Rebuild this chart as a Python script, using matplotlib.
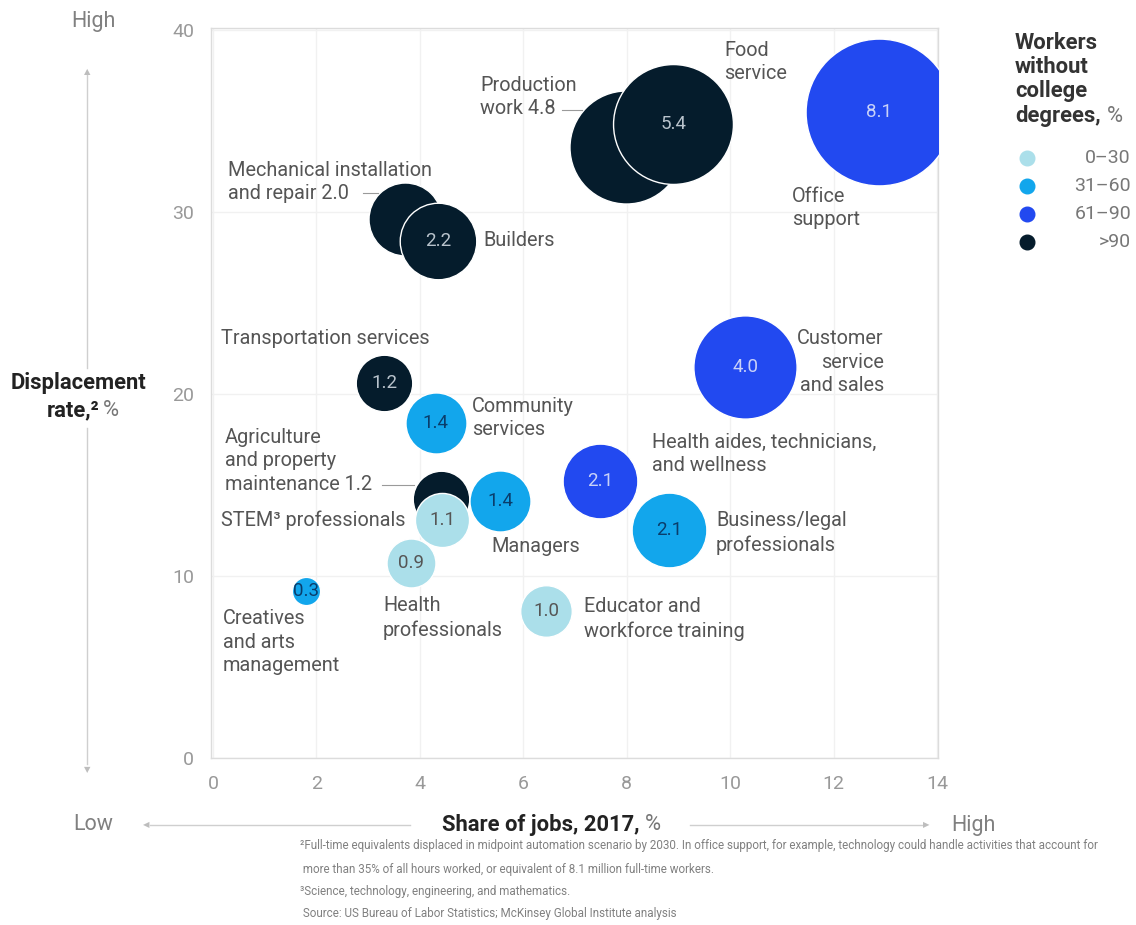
import matplotlib
matplotlib.use("Agg")
import matplotlib.pyplot as plt
from matplotlib.lines import Line2D
import numpy as np

plt.rcParams['font.family'] = ['Roboto', 'DejaVu Sans']

# ---------------- data ----------------
names = ["Office support", "Production work", "Food service", "Mechanical installation",
         "Builders", "Customer service and sales", "Transportation services",
         "Community services", "Agriculture and property maintenance", "STEM professionals",
         "Managers", "Health aides, technicians, and wellness", "Business/legal professionals",
         "Health professionals", "Creatives and arts management", "Educator and workforce training"]
share_of_jobs = [12.88, 7.99, 8.90, 3.71, 4.35, 10.29, 3.31, 4.31, 4.41, 4.43,
                 5.55, 7.49, 8.82, 3.83, 1.80, 6.44]
displacement = [35.5, 33.55, 34.8, 29.6, 28.4, 21.5, 20.6, 18.4, 14.2, 13.1,
                14.1, 15.2, 12.5, 10.7, 9.2, 8.1]
displaced_millions = [8.1, 4.8, 5.4, 2.0, 2.2, 4.0, 1.2, 1.4, 1.2, 1.1,
                      1.4, 2.1, 2.1, 0.9, 0.3, 1.0]
no_degree_group = [2, 3, 3, 3, 3, 2, 3, 1, 3, 0, 1, 2, 1, 0, 1, 0]
show_inside = [True, False, True, False, True, True, True, True, False, True,
               True, True, True, True, True, True]

group_labels = ["0–30", "31–60", "61–90", ">90"]
group_colors = ["#abdfea", "#12a6ec", "#2249f0", "#051c2c"]
inside_text_colors = ["#555555", "#0a3d6b", "#c9d2f8", "#b9c3cc"]

xticks = [0, 2, 4, 6, 8, 10, 12, 14]
yticks = [0, 10, 20, 30, 40]

W, H = 1136, 925
fig = plt.figure(figsize=(W / 100, H / 100), dpi=100)

def P(x, y):
    return (x / W, 1 - y / H)

ax = fig.add_axes([211 / W, 1 - 758 / H, (938 - 211) / W, (758 - 28) / H])
ax.set_xlim(-0.04, 14.02)
ax.set_ylim(0, 40.1)
for sp in ax.spines.values():
    sp.set_color("#dcdcdc")
    sp.set_linewidth(1.0)
ax.set_xticks(xticks)
ax.set_yticks(yticks)
ax.tick_params(length=0, labelsize=14, colors="#999999", pad=12)
ax.grid(True, color="#f1f1f1", linewidth=1.0)
ax.set_axisbelow(True)

SCALE = 1380
for i in range(len(names)):
    g = no_degree_group[i]
    ax.scatter(share_of_jobs[i], displacement[i], s=SCALE * displaced_millions[i],
               color=group_colors[g], edgecolors="white", linewidths=1.0, zorder=3 + i * 0.01)
    if show_inside[i]:
        ax.text(share_of_jobs[i], displacement[i], f"{displaced_millions[i]:.1f}",
                ha="center", va="center", fontsize=13.5,
                color=inside_text_colors[g], zorder=5)

# ---------------- labels ----------------
lab_kw = dict(fontsize=14.3, color="#555555", va="center", linespacing=1.33)

def lab(x, y, s, ha="left"):
    fig.text(*P(x, y), s, ha=ha, **lab_kw)

lab(480, 97, "Production\nwork 4.8")
lab(724, 62, "Food\nservice")
lab(792, 208, "Office\nsupport")
lab(228, 182, "Mechanical installation\nand repair 2.0")
lab(483, 241, "Builders")
lab(221, 339, "Transportation services")
lab(472, 418, "Community\nservices")
lab(225, 461, "Agriculture\nand property\nmaintenance 1.2")
lab(221, 520, "STEM³ professionals")
lab(491, 546, "Managers")
lab(383, 618, "Health\nprofessionals")
lab(223, 642, "Creatives\nand arts\nmanagement")
lab(584, 619, "Educator and\nworkforce training")
lab(652, 454, "Health aides, technicians,\nand wellness")
lab(716, 533, "Business/legal\nprofessionals")
lab(884, 362, "Customer\nservice\nand sales", ha="right")

def seg(x0, y0, x1, y1, color="#9a9a9a", lw=0.8):
    fig.add_artist(Line2D([x0 / W, x1 / W], [1 - y0 / H, 1 - y1 / H],
                          transform=fig.transFigure, color=color, linewidth=lw))

seg(562, 110, 582, 110)
seg(363, 193, 378, 193)
seg(382, 485, 414, 485)

# ---------------- axis decorations ----------------
gray = "#cfcfcf"
seg(87, 75, 87, 368, color=gray, lw=1.0)
seg(87, 428, 87, 764, color=gray, lw=1.0)
fig.text(*P(87, 72), "▲", ha="center", va="center", fontsize=6, color="#bdbdbd",
         family="DejaVu Sans")
fig.text(*P(87, 770), "▼", ha="center", va="center", fontsize=6, color="#bdbdbd",
         family="DejaVu Sans")
seg(150, 825, 410, 825, color=gray, lw=1.0)
seg(690, 825, 922, 825, color=gray, lw=1.0)
fig.text(*P(146, 825), "◀", ha="center", va="center", fontsize=6, color="#bdbdbd",
         family="DejaVu Sans")
fig.text(*P(926, 825), "▶", ha="center", va="center", fontsize=6, color="#bdbdbd",
         family="DejaVu Sans")

hl_kw = dict(ha="center", va="center", fontsize=15.5, color="#808080")
fig.text(*P(93, 22), "High", **hl_kw)
fig.text(*P(93, 825), "Low", **hl_kw)
fig.text(*P(973, 825), "High", **hl_kw)

BOLD = 15.8
fig.text(*P(79, 383), "Displacement", ha="center", va="center", fontsize=BOLD,
         fontweight="bold", color="#222222")
fig.text(*P(100, 410), "rate,²", ha="right", va="center", fontsize=BOLD,
         fontweight="bold", color="#222222")
fig.text(*P(103, 410), "%", ha="left", va="center", fontsize=BOLD, color="#777777")
fig.text(*P(640, 825), "Share of jobs, 2017,", ha="right", va="center", fontsize=BOLD,
         fontweight="bold", color="#222222")
fig.text(*P(645, 825), "%", ha="left", va="center", fontsize=BOLD, color="#777777")

# ---------------- legend ----------------
for t, y in zip(["Workers", "without", "college"], [43, 67, 91]):
    fig.text(*P(1015, y), t, ha="left", va="center", fontsize=BOLD,
             fontweight="bold", color="#333333")
fig.text(*P(1015, 116), "degrees,", ha="left", va="center", fontsize=BOLD,
         fontweight="bold", color="#333333")
fig.text(*P(1107, 116), "%", ha="left", va="center", fontsize=BOLD, color="#777777")
leg_y = [158, 186, 214, 242]
for k in range(4):
    fig.add_artist(Line2D([1027 / W], [1 - leg_y[k] / H], marker="o", markersize=10.5,
                          color=group_colors[k], transform=fig.transFigure, linestyle=""))
    fig.text(*P(1131, leg_y[k]), group_labels[k], ha="right", va="center",
             fontsize=14, color="#777777")

# ---------------- footnotes ----------------
foot = ["²Full-time equivalents displaced in midpoint automation scenario by 2030. In office support, for example, technology could handle activities that account for",
        " more than 35% of all hours worked, or equivalent of 8.1 million full-time workers.",
        "³Science, technology, engineering, and mathematics.",
        " Source: US Bureau of Labor Statistics; McKinsey Global Institute analysis"]
foot_y = [846, 869, 892, 914]
for t, y in zip(foot, foot_y):
    fig.text(*P(300, y), t, ha="left", va="center", fontsize=8.4, color="#808080")

fig.savefig("out.png", dpi=100)
